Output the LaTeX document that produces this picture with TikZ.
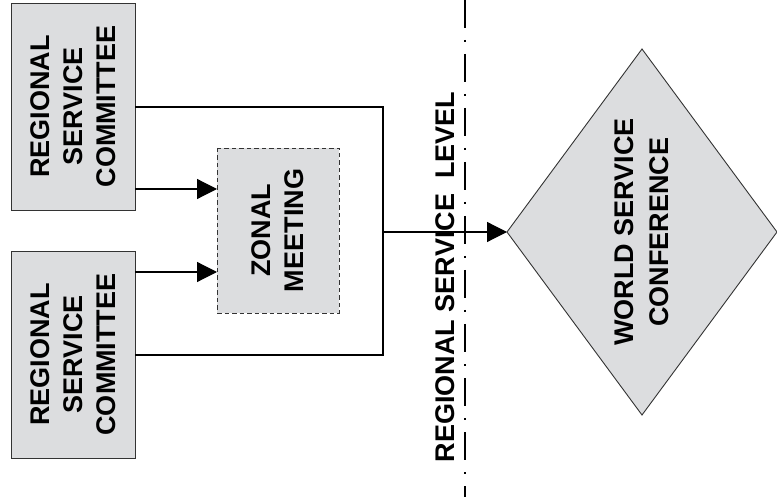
\documentclass[tikz,border=0pt]{standalone}
\usepackage{fontspec}
\setmainfont{Liberation Sans}
\usetikzlibrary{shapes.geometric,arrows.meta}
\definecolor{boxgray}{RGB}{220,221,223}

\begin{document}
\begin{tikzpicture}[x=1pt, y=-1pt,
  every node/.style={font=\bfseries\fontsize{27}{33}\selectfont, align=center, inner sep=0pt, outer sep=0pt},
  rscbox/.style={draw=black!80, fill=boxgray, line width=0.9pt, rotate=90, minimum width=207pt, minimum height=124pt},
  zonebox/.style={draw=black!80, fill=boxgray, line width=0.9pt, dash pattern=on 4.5pt off 3pt, rotate=90, minimum width=165pt, minimum height=122pt},
  wscshape/.style={diamond, draw=black!80, fill=boxgray, line width=0.9pt, rotate=90, aspect=1.356, minimum width=366pt, minimum height=270pt, font=\bfseries\fontsize{27}{35}\selectfont},
  link/.style={line width=1.2pt},
  tip/.style={link, -{Triangle[length=20pt,width=20pt]}}]
\useasboundingbox (0,0) rectangle (777,497);

\node[rscbox] (rsc1) at (73,106.5) {REGIONAL\\SERVICE\\COMMITTEE};
\node[rscbox] (rsc2) at (73,354.5) {REGIONAL\\SERVICE\\COMMITTEE};
\node[zonebox] (zm) at (278,230.5) {ZONAL\\MEETING};
\node[wscshape] (wsc) at (642,232) {WORLD SERVICE\\CONFERENCE};
\node[rotate=90] (rsl) at (445,277) {REGIONAL SERVICE\ \ LEVEL};
\coordinate (jn) at (383,232);

\draw[line width=1.2pt, dash pattern=on 28pt off 12pt on 2pt off 12pt] (465,0) -- (465,497);

\draw[link] (rsc1.south |- 0,107) -| (jn);
\draw[link] (rsc2.south |- 0,355) -| (jn);
\draw[tip] (rsc1.south |- 0,189) -- (zm.north |- 0,189);
\draw[tip] (rsc2.south |- 0,272) -- (zm.north |- 0,272);
\draw[tip] (jn) -- (wsc.north);
\end{tikzpicture}
\end{document}
